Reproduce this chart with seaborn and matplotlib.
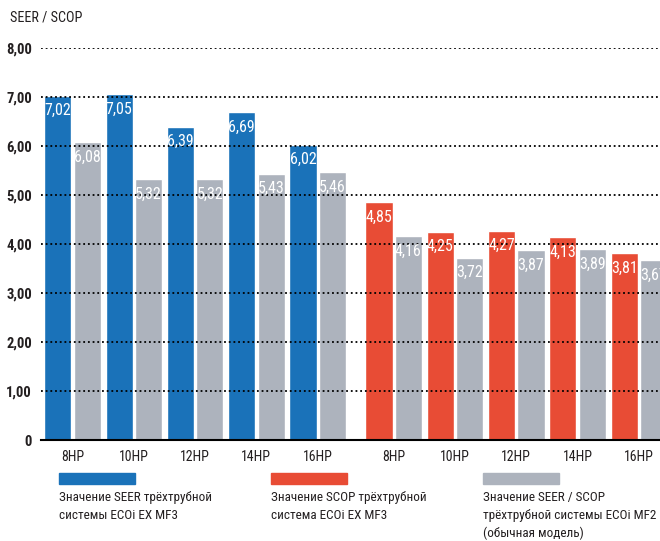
import numpy as np
import pandas as pd
import seaborn as sns
import matplotlib.pyplot as plt
from matplotlib.patches import Rectangle

# data
models = ["8HP", "10HP", "12HP", "14HP", "16HP"]
seer_mf3 = [7.02, 7.05, 6.39, 6.69, 6.02]
seer_mf2 = [6.08, 5.32, 5.32, 5.43, 5.46]
scop_mf3 = [4.85, 4.25, 4.27, 4.13, 3.81]
scop_mf2 = [4.16, 3.72, 3.87, 3.89, 3.67]
yticks = [0, 1, 2, 3, 4, 5, 6, 7, 8]
ytick_labels = ["0", "1,00", "2,00", "3,00", "4,00", "5,00", "6,00", "7,00", "8,00"]
legend_labels = [
    "Значение SEER трёхтрубной\nсистемы ECOi EX MF3",
    "Значение SCOP трёхтрубной\nсистема ECOi EX MF3",
    "Значение SEER / SCOP\nтрёхтрубной системы ECOi MF2\n(обычная модель)",
]

BLUE = "#1a72b9"
RED = "#e84c35"
GREY = "#adb3bd"
DARK = "#231f20"

sns.set_style("white")
plt.rcParams['font.family'] = ['Roboto Condensed', 'DejaVu Sans']
plt.rcParams['font.stretch'] = 'condensed'

# numeric positions: second block shifted a little to the right
half_gap = 0.24
pos_left = np.arange(len(models))
pos_right = np.arange(len(models)) + len(models) + half_gap

seer_df = pd.DataFrame({
    "pos": np.concatenate([pos_left, pos_left]),
    "value": seer_mf3 + seer_mf2,
    "kind": ["MF3"] * 5 + ["MF2"] * 5,
})
scop_df = pd.DataFrame({
    "pos": np.concatenate([pos_right, pos_right]),
    "value": scop_mf3 + scop_mf2,
    "kind": ["MF3"] * 5 + ["MF2"] * 5,
})

fig = plt.figure(figsize=(6.6, 5.41), dpi=100)
ax = fig.add_axes([41 / 660, 101 / 541, 619 / 660, 392.3 / 541])

sns.barplot(data=seer_df, x="pos", y="value", hue="kind", native_scale=True,
            palette={"MF3": BLUE, "MF2": GREY}, width=0.96, gap=0.08,
            saturation=1, legend=False, errorbar=None, ax=ax)
sns.barplot(data=scop_df, x="pos", y="value", hue="kind", native_scale=True,
            palette={"MF3": RED, "MF2": GREY}, width=0.96, gap=0.08,
            saturation=1, legend=False, errorbar=None, ax=ax)

# value labels inside the bars
for p in ax.patches:
    h = p.get_height()
    if h <= 0:
        continue
    txt = f"{h:.2f}".replace(".", ",")
    ax.annotate(txt, (p.get_x() + p.get_width() / 2, h), xytext=(0, -15),
                textcoords="offset pixels", ha="center", va="center",
                color="white", fontsize=11.5, annotation_clip=False)

ax.set_xlim(-0.514, 9.584)
ax.set_ylim(0, 8)
ax.set_xticks(list(pos_left) + list(pos_right))
ax.set_xticklabels(models + models, fontsize=10, color=DARK)
ax.set_yticks(yticks)
ax.set_yticklabels(ytick_labels, fontsize=10.5, color=DARK, fontweight="bold")
ax.tick_params(axis="both", length=0)
ax.tick_params(axis="y", pad=6.5)
ax.tick_params(axis="x", pad=7)
ax.set_xlabel("")
ax.set_ylabel("")

for s in ["top", "right", "left"]:
    ax.spines[s].set_visible(False)
ax.spines["bottom"].set_color("black")
ax.spines["bottom"].set_linewidth(1.5)

ax.yaxis.grid(True, color="black", linestyle=(0, (1, 1.6)), linewidth=1.3)
ax.xaxis.grid(False)
ax.set_axisbelow(False)

fig.text(10 / 660, 1 - 18 / 541, "SEER / SCOP", fontsize=10.2, color=DARK,
         ha="left", va="center")

# legend below the axis
for x0, col, lab in zip([59, 271, 483], [BLUE, RED, GREY], legend_labels):
    fig.patches.append(Rectangle((x0 / 660, 1 - 484 / 541), 76 / 660, 11 / 541,
                                 transform=fig.transFigure, color=col))
    fig.text(x0 / 660, 1 - 491 / 541, lab, fontsize=9.5, color=DARK,
             ha="left", va="top", linespacing=1.48)

fig.savefig("out.png", dpi=100)
